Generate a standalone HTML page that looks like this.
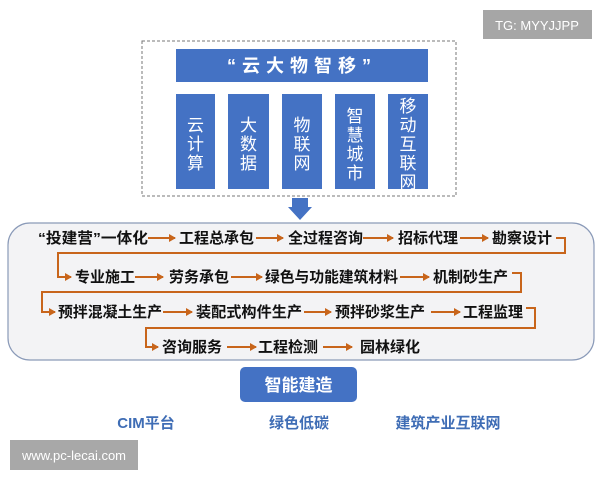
<!DOCTYPE html>
<html><head><meta charset="utf-8"><style>
html,body{margin:0;padding:0;background:#fff;}
svg{display:block;}
text{font-family:"Liberation Sans","Noto Sans CJK SC",sans-serif;}
.r{font-size:15px;font-weight:bold;fill:#111;}
.c{font-size:17px;fill:#fff;}
.b{font-size:15px;font-weight:bold;fill:#3f6db5;}
</style></head><body>
<svg width="600" height="480" viewBox="0 0 600 480" xmlns="http://www.w3.org/2000/svg">
<defs>
<marker id="a" markerWidth="8" markerHeight="8" refX="6" refY="4" orient="auto" markerUnits="userSpaceOnUse">
<path d="M0,0 L7,4 L0,8 Z" fill="#c8651b"/></marker>
</defs>
<rect x="483" y="10" width="109" height="29" fill="#a6a6a6"/>
<text x="537" y="30" text-anchor="middle" font-size="13" fill="#fff" style="font-family:'Liberation Sans',sans-serif">TG: MYYJJPP</text>
<rect x="142" y="41" width="314" height="155" fill="none" stroke="#777" stroke-width="1" stroke-dasharray="3,2"/>
<rect x="176" y="49" width="252" height="33" fill="#4472c4"/>
<text x="302" y="72" text-anchor="middle" font-size="18" font-weight="bold" fill="#fff" letter-spacing="6">“云大物智移”</text>
<g fill="#4472c4">
<rect x="176" y="94" width="39" height="95"/><rect x="228" y="94" width="41" height="95"/><rect x="282" y="94" width="40" height="95"/><rect x="335" y="94" width="40" height="95"/><rect x="388" y="94" width="40" height="95"/>
</g>
<g class="c" text-anchor="middle">
<text x="195.5" y="131">云</text><text x="195.5" y="150">计</text><text x="195.5" y="169">算</text>
<text x="248.5" y="131">大</text><text x="248.5" y="150">数</text><text x="248.5" y="169">据</text>
<text x="302" y="131">物</text><text x="302" y="150">联</text><text x="302" y="169">网</text>
<text x="355" y="122">智</text><text x="355" y="141">慧</text><text x="355" y="160">城</text><text x="355" y="179">市</text>
<text x="408" y="112">移</text><text x="408" y="131">动</text><text x="408" y="150">互</text><text x="408" y="169">联</text><text x="408" y="188">网</text>
</g>
<path d="M292,198 H308 V207 H312 L300,220 L288,207 H292 Z" fill="#4472c4"/>
<rect x="8" y="223" width="586" height="137" rx="22" fill="#f3f3f5" stroke="#8a9ab8" stroke-width="1.2"/>
<g class="r">
<text x="38" y="243" textLength="110" lengthAdjust="spacingAndGlyphs">“投建营”一体化</text>
<text x="179" y="243">工程总承包</text>
<text x="288" y="243">全过程咨询</text>
<text x="398" y="243">招标代理</text>
<text x="492" y="243">勘察设计</text>
<text x="75" y="282">专业施工</text>
<text x="169" y="282">劳务承包</text>
<text x="265" y="282" textLength="133" lengthAdjust="spacingAndGlyphs">绿色与功能建筑材料</text>
<text x="433" y="282">机制砂生产</text>
<text x="58" y="317" textLength="104" lengthAdjust="spacingAndGlyphs">预拌混凝土生产</text>
<text x="196" y="317" textLength="106" lengthAdjust="spacingAndGlyphs">装配式构件生产</text>
<text x="335" y="317">预拌砂浆生产</text>
<text x="463" y="317">工程监理</text>
<text x="162" y="352">咨询服务</text>
<text x="258" y="352">工程检测</text>
<text x="360" y="352">园林绿化</text>
</g>
<g stroke="#c8651b" stroke-width="2" fill="none" marker-end="url(#a)">
<path d="M148,238 H175"/><path d="M256,238 H283"/><path d="M363,238 H393"/><path d="M460,238 H488"/>
<path d="M556,238 H565 V253 H58 V277 H71"/>
<path d="M135,277 H163"/><path d="M231,277 H262"/><path d="M400,277 H429"/>
<path d="M512,273 H521 V292 H42 V312 H55"/>
<path d="M163,312 H192"/><path d="M304,312 H331"/><path d="M431,312 H460"/>
<path d="M526,308 H535 V328 H146 V347 H158"/>
<path d="M227,347 H256"/><path d="M323,347 H352"/>
</g>
<rect x="240" y="367" width="117" height="35" rx="5" fill="#4472c4"/>
<text x="298.5" y="391" text-anchor="middle" font-size="17" font-weight="bold" fill="#fff">智能建造</text>
<g class="b" text-anchor="middle">
<text x="146" y="428">CIM平台</text>
<text x="299" y="428">绿色低碳</text>
<text x="448" y="428">建筑产业互联网</text>
</g>
<rect x="10" y="440" width="128" height="30" fill="#a8a8a8"/>
<text x="74" y="460" text-anchor="middle" font-size="13" fill="#fff" style="font-family:'Liberation Sans',sans-serif">www.pc-lecai.com</text>
</svg>
</body></html>
